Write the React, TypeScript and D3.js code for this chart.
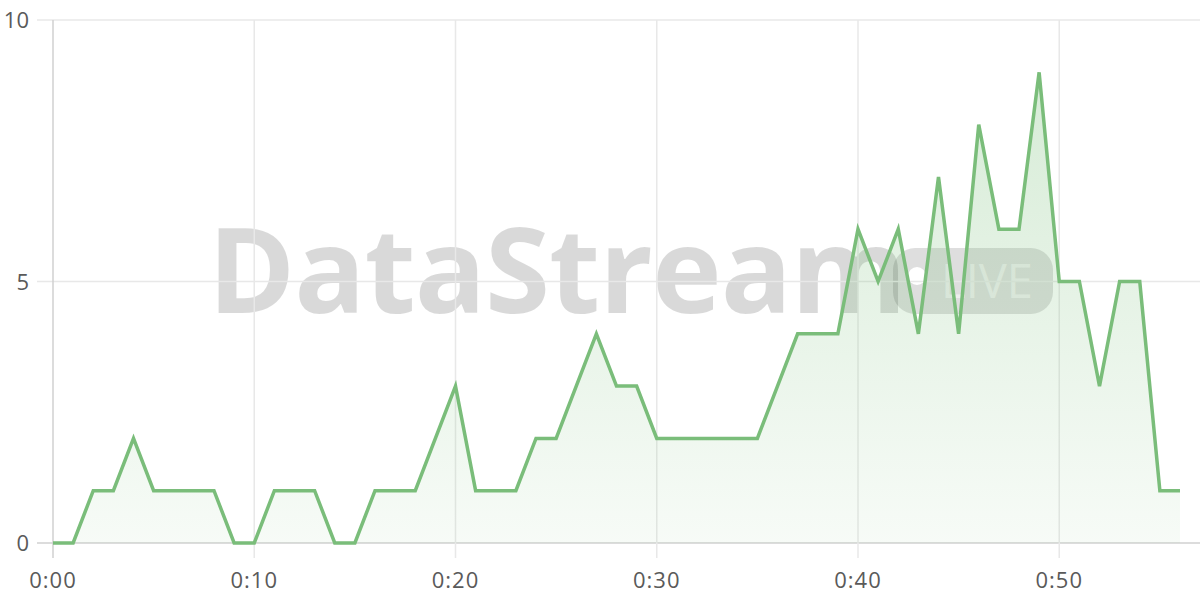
import React from "react";
import * as d3 from "d3";

const minutes = [0,1,2,3,4,5,6,7,8,9,10,11,12,13,14,15,16,17,18,19,20,21,22,23,24,25,26,27,28,29,30,31,32,33,34,35,36,37,38,39,40,41,42,43,44,45,46,47,48,49,50,51,52,53,54,55,56];
const counts = [0,0,1,1,2,1,1,1,1,0,0,1,1,1,0,0,1,1,1,2,3,1,1,1,2,2,3,4,3,3,2,2,2,2,2,2,3,4,4,4,6,5,6,4,7,4,8,6,6,9,5,5,3,5,5,1,1];
const xTicks = [0, 10, 20, 30, 40, 50];
const xTickLabels = ["0:00", "0:10", "0:20", "0:30", "0:40", "0:50"];
const yTicks = [0, 5, 10];
const yTickLabels = ["0", "5", "10"];

const W = 1200, H = 600;
const M = { left: 53, right: 0, top: 20, bottom: 57 };

export default function App() {
  const x = d3.scaleLinear().domain([0, 56]).range([M.left, 1180]);
  const y = d3.scaleLinear().domain([0, 10]).range([H - M.bottom, M.top]);
  const data = minutes.map((m, i) => ({ m, v: counts[i] }));
  const line = d3.line<any>().x(d => x(d.m)).y(d => y(d.v));
  const area = d3.area<any>().x(d => x(d.m)).y0(y(0)).y1(d => y(d.v));
  const font = "'Open Sans', 'Noto Sans', sans-serif";
  return (
    <div style={{ position: "fixed", left: 0, top: 0, width: W, height: H, background: "#fff" }}>
      <svg width={W} height={H} style={{ display: "block" }}>
        <defs>
          <linearGradient id="ag" x1="0" y1="0" x2="0" y2="1">
            <stop offset="0%" stopColor="rgb(120,190,120)" stopOpacity={0.3} />
            <stop offset="100%" stopColor="rgb(120,190,120)" stopOpacity={0.06} />
          </linearGradient>
        </defs>
        {/* watermark */}
        <g>
          <text x={208} y={313} fontFamily={font} fontWeight={700} fontSize={118} fill="#000" fillOpacity={0.15} letterSpacing={-1}>DataStream</text>
          <rect x={893} y={248} width={160} height={66} rx={22} fill="#000" fillOpacity={0.13} />
          <circle cx={917} cy={276} r={9} fill="#fff" />
          <text x={987} y={298} textAnchor="middle" fontFamily={font} fontWeight={400} fontSize={47} fill="#fff" fillOpacity={0.55}>LIVE</text>
        </g>
        {/* grid */}
        {yTicks.map(t => (
          <line key={"gy" + t} x1={37} x2={W} y1={y(t)} y2={y(t)} stroke={t === 0 ? "#d0d0d0" : "#e8e8e8"} strokeWidth={1.5} />
        ))}
        {xTicks.map(t => (
          <line key={"gx" + t} x1={x(t)} x2={x(t)} y1={M.top} y2={y(0) + 15} stroke={t === 0 ? "#d0d0d0" : "#e8e8e8"} strokeWidth={1.5} />
        ))}
        <path d={area(data) || ""} fill="url(#ag)" />
        <path d={line(data) || ""} fill="none" stroke="rgb(122,189,122)" strokeWidth={3.5} strokeLinejoin="miter" />
        {yTicks.map((t, i) => (
          <text key={"ly" + t} x={29} y={y(t) + 8} textAnchor="end" fontFamily={font} fontSize={22} fill="#5a5a5a">{yTickLabels[i]}</text>
        ))}
        {xTicks.map((t, i) => (
          <text key={"lx" + t} x={x(t)} y={588} textAnchor="middle" fontFamily={font} fontSize={22} letterSpacing={1} fill="#5a5a5a">{xTickLabels[i]}</text>
        ))}
      </svg>
    </div>
  );
}
